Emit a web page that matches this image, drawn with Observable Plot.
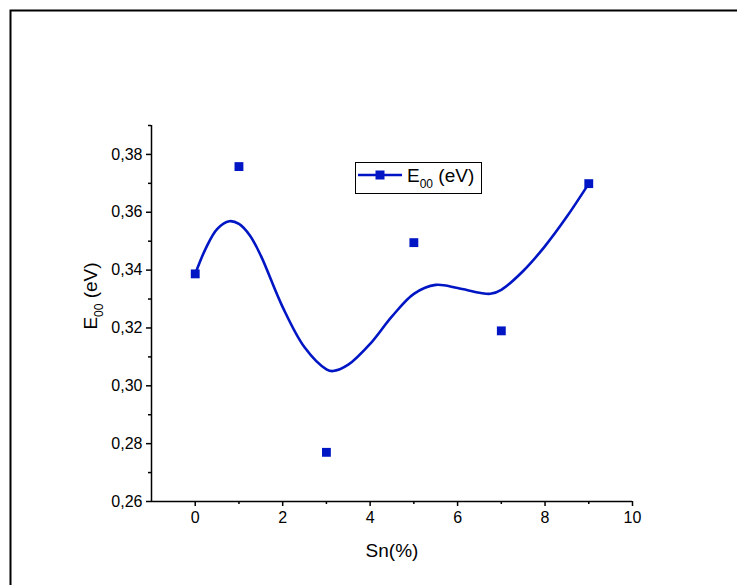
<!DOCTYPE html>
<html>
<head>
<meta charset="utf-8">
<script src="https://cdn.jsdelivr.net/npm/d3@7"></script>
<script src="https://cdn.jsdelivr.net/npm/@observablehq/plot@0.6"></script>
<style>
  html, body { margin: 0; padding: 0; background: #fff; }
  #chart { position: relative; width: 737px; height: 585px; overflow: hidden; }
</style>
</head>
<body>
<div id="chart"></div>
<script>
// Measured data points
const snPercent = [0, 1, 3, 5, 7, 9];
const e00 = [0.3387, 0.3758, 0.2770, 0.3495, 0.3190, 0.3699];

// Smoothed curve
const curveX = [0, 0.25, 0.5, 0.78, 1, 1.25, 1.5, 2, 2.5, 3, 3.15, 3.5, 4, 4.5, 5, 5.5, 6, 6.5, 6.75, 7, 7.5, 8, 8.5, 9];
const curveY = [0.3387, 0.3478, 0.3542, 0.3569, 0.3560, 0.3520, 0.3450, 0.3272, 0.3133, 0.3057, 0.3051, 0.3073, 0.3145, 0.3240, 0.3318, 0.3349, 0.3338, 0.3322, 0.3318, 0.3332, 0.3397, 0.3483, 0.3585, 0.3699];

// Axes
const xDomain = [-1, 10];
const yDomain = [0.26, 0.39];
const xMajor = [0, 2, 4, 6, 8, 10];
const xMinor = [1, 3, 5, 7, 9];
const yMajor = [0.26, 0.28, 0.30, 0.32, 0.34, 0.36, 0.38];
const yMinor = [0.27, 0.29, 0.31, 0.33, 0.35, 0.37, 0.39];

const points = snPercent.map((x, i) => ({x, y: e00[i]}));
const curve = curveX.map((x, i) => ({x, y: curveY[i]}));

const blue = "#0016c4";
const font = "'Liberation Sans', Arial, sans-serif";

const plot = Plot.plot({
  width: 737,
  height: 585,
  marginLeft: 151,
  marginRight: 105,
  marginTop: 125,
  marginBottom: 84,
  style: {fontFamily: font, background: "transparent", overflow: "visible", fontSize: "16px"},
  x: {domain: xDomain},
  y: {domain: yDomain},
  marks: [
    Plot.axisY(yMajor, {tickSize: 5, tickPadding: 4, fontSize: 16, stroke: "#000", strokeWidth: 1.5, fill: "#000",
      tickFormat: d => d.toFixed(2).replace(".", ","), label: null}),
    Plot.axisY(yMinor, {tickSize: 3, stroke: "#000", strokeWidth: 1.5, text: null, label: null}),
    Plot.axisX(xMajor, {tickSize: 5, tickPadding: 5, fontSize: 16, stroke: "#000", strokeWidth: 1.5, fill: "#000", label: null}),
    Plot.axisX(xMinor, {tickSize: 3, stroke: "#000", strokeWidth: 1.5, text: null, label: null}),
    Plot.ruleX(xDomain.slice(0, 1), {stroke: "#000", strokeWidth: 1.5}),
    Plot.ruleY(yDomain.slice(0, 1), {stroke: "#000", strokeWidth: 1.5}),
    Plot.line(curve, {x: "x", y: "y", curve: "catmull-rom", stroke: blue, strokeWidth: 2.6}),
    Plot.dot(points, {x: "x", y: "y", symbol: "square", r: 5, fill: blue, stroke: "none"})
  ]
});

document.getElementById("chart").appendChild(plot);
const svg = d3.select(plot);

// outer frame
svg.insert("rect", ":first-child")
  .attr("x", 10.5).attr("y", 10.5).attr("width", 800).attr("height", 800)
  .attr("fill", "none").attr("stroke", "#000").attr("stroke-width", 2);

// axis titles
svg.append("text")
  .attr("x", 392).attr("y", 557)
  .attr("text-anchor", "middle")
  .attr("font-family", font).attr("font-size", 19).attr("fill", "#000")
  .text("Sn(%)");

const yt = svg.append("text")
  .attr("transform", "translate(97,296) rotate(-90)")
  .attr("text-anchor", "middle")
  .attr("font-family", font).attr("font-size", 19).attr("fill", "#000");
yt.append("tspan").text("E");
yt.append("tspan").attr("font-size", 12).attr("dy", 6).text("00");
yt.append("tspan").attr("dy", -6).text(" (eV)");

// legend
const lg = svg.append("g");
lg.append("rect").attr("x", 355.5).attr("y", 162.5).attr("width", 126).attr("height", 31)
  .attr("fill", "#fff").attr("stroke", "#000").attr("stroke-width", 1);
lg.append("line").attr("x1", 358).attr("x2", 402).attr("y1", 175).attr("y2", 175)
  .attr("stroke", blue).attr("stroke-width", 2.6);
lg.append("rect").attr("x", 375.5).attr("y", 170.5).attr("width", 9).attr("height", 9).attr("fill", blue);
const lt = lg.append("text").attr("x", 407).attr("y", 182)
  .attr("text-anchor", "start")
  .attr("font-family", font).attr("font-size", 19).attr("fill", "#000");
lt.append("tspan").text("E");
lt.append("tspan").attr("font-size", 12).attr("dy", 6).text("00");
lt.append("tspan").attr("dy", -6).text(" (eV)");
</script>
</body>
</html>
